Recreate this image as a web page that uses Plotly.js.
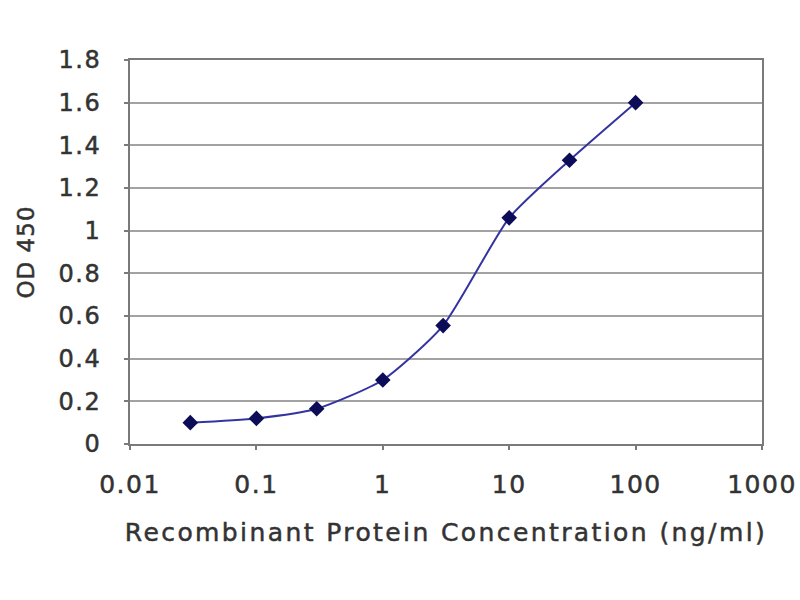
<!DOCTYPE html>
<html>
<head>
<meta charset="utf-8">
<script src="https://cdn.plot.ly/plotly-3.0.1.min.js"></script>
<style>
  html, body { margin: 0; padding: 0; background: #fff; }
  #chart { width: 800px; height: 600px; }
  /* the source picture is stretched sideways and a bit heavy, widen the lettering */
  #chart .xtick text, #chart .ytick text { letter-spacing: 1.5px; stroke: #333; stroke-width: 0.5px; }
  #chart .g-xtitle text { letter-spacing: 2.4px; stroke: #333; stroke-width: 0.5px; }
  #chart .g-ytitle text { letter-spacing: 1px; stroke: #333; stroke-width: 0.5px; }
</style>
</head>
<body>
<div id="chart"></div>
<script>
// concentration (ng/ml) and measured OD 450
var concentration = [0.03, 0.1, 0.3, 1, 3, 10, 30, 100];
var od450 = [0.10, 0.12, 0.165, 0.30, 0.555, 1.06, 1.33, 1.60];

var xTickVals = [0.01, 0.1, 1, 10, 100, 1000];
var xTickText = ['0.01', '0.1', '1', '10', '100', '1000'];

var trace = {
    x: concentration,
    y: od450,
    type: 'scatter',
    mode: 'lines+markers',
    line: { color: '#3434a0', width: 2, shape: 'spline', smoothing: 0.6 },
    marker: { symbol: 'diamond', size: 12, color: '#0c0c58' },
    hoverinfo: 'x+y'
};

var layout = {
    width: 800,
    height: 600,
    margin: { l: 130, r: 38, t: 60, b: 156 },
    paper_bgcolor: '#ffffff',
    plot_bgcolor: '#ffffff',
    showlegend: false,
    font: { family: 'DejaVu Sans, Arial, sans-serif', size: 24, color: '#333333' },
    xaxis: {
        type: 'log',
        range: [-2, 3],
        tickvals: xTickVals,
        ticktext: xTickText,
        tickfont: { size: 25 },
        showgrid: false,
        zeroline: false,
        showline: true,
        linecolor: '#7a7a7a',
        linewidth: 2,
        mirror: true,
        ticks: 'outside',
        ticklen: 4,
        tickcolor: '#7a7a7a',
        tickwidth: 2,
        ticklabelstandoff: 13,
        title: { text: 'Recombinant Protein Concentration (ng/ml)', standoff: 25, font: { size: 25 } }
    },
    yaxis: {
        range: [0, 1.8],
        dtick: 0.2,
        tickfont: { size: 24 },
        showgrid: true,
        gridcolor: '#a3a3a3',
        gridwidth: 2,
        zeroline: false,
        showline: true,
        linecolor: '#7a7a7a',
        linewidth: 2,
        mirror: true,
        ticks: 'outside',
        ticklen: 4,
        tickcolor: '#7a7a7a',
        tickwidth: 2,
        ticklabelstandoff: 18,
        title: { text: 'OD 450', standoff: 22, font: { size: 23 } }
    }
};

Plotly.newPlot('chart', [trace], layout, { displayModeBar: false, staticPlot: true });
</script>
</body>
</html>
